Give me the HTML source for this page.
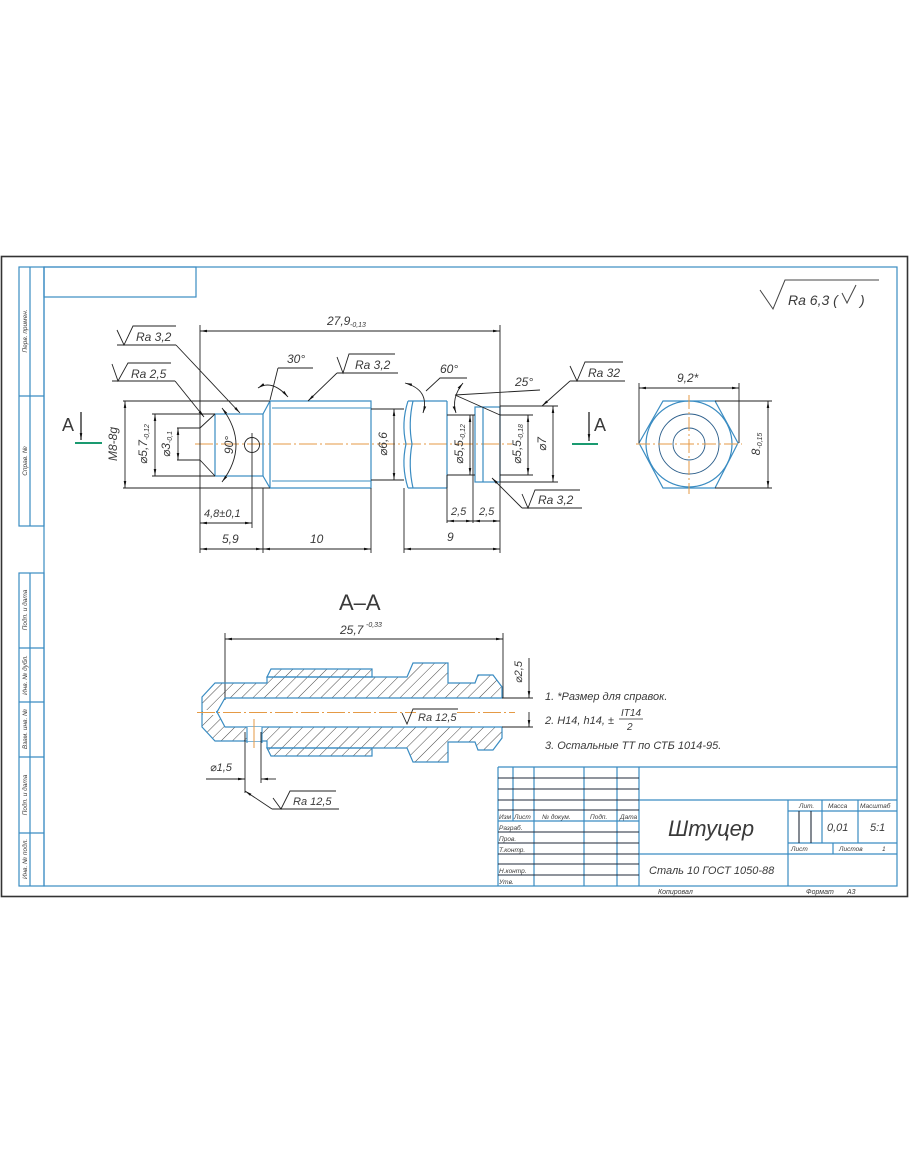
<!DOCTYPE html>
<html><head><meta charset="utf-8"><style>
html,body{margin:0;padding:0;background:#fff;}
svg{display:block;}
text{font-family:"Liberation Sans","DejaVu Sans",sans-serif;font-style:italic;fill:#3a3a3a;}
.up{font-style:normal;}
</style></head><body>
<svg width="910" height="1155" viewBox="0 0 910 1155" xmlns="http://www.w3.org/2000/svg">
<defs>
<marker id="a" viewBox="0 0 10 10" refX="10" refY="5" markerWidth="7" markerHeight="7" markerUnits="userSpaceOnUse" orient="auto-start-reverse"><path d="M0,3.2 L10,5 L0,6.8z" fill="#111"/></marker>
<pattern id="h" width="8" height="8" patternUnits="userSpaceOnUse" patternTransform="rotate(45)"><line x1="0" y1="0" x2="0" y2="8" stroke="#333" stroke-width="0.9"/></pattern>
</defs>
<rect width="910" height="1155" fill="#fff"/>

<!-- outer border -->
<rect x="1.5" y="256.5" width="906" height="640" fill="none" stroke="#333" stroke-width="1.6"/>
<!-- blue frame -->
<g fill="none" stroke="#3a8cc2" stroke-width="1.2">
<rect x="44" y="267" width="853" height="619"/>
<rect x="44" y="267" width="152" height="30"/>
<rect x="19" y="267" width="25" height="259"/>
<line x1="30" y1="267" x2="30" y2="526"/>
<line x1="19" y1="396" x2="44" y2="396"/>
<rect x="19" y="573" width="25" height="313"/>
<line x1="30" y1="573" x2="30" y2="886"/>
<line x1="19" y1="648" x2="44" y2="648"/>
<line x1="19" y1="702" x2="44" y2="702"/>
<line x1="19" y1="757" x2="44" y2="757"/>
<line x1="19" y1="833" x2="44" y2="833"/>
</g>
<g font-size="6.5">
<text transform="rotate(-90 27 331)" x="27" y="331" text-anchor="middle">Перв. примен.</text>
<text transform="rotate(-90 27 461)" x="27" y="461" text-anchor="middle">Справ. №</text>
<text transform="rotate(-90 27 610)" x="27" y="610" text-anchor="middle">Подп. и дата</text>
<text transform="rotate(-90 27 675)" x="27" y="675" text-anchor="middle">Инв. № дубл.</text>
<text transform="rotate(-90 27 729)" x="27" y="729" text-anchor="middle">Взам. инв. №</text>
<text transform="rotate(-90 27 795)" x="27" y="795" text-anchor="middle">Подп. и дата</text>
<text transform="rotate(-90 27 859)" x="27" y="859" text-anchor="middle">Инв. № подл.</text>
</g>

<!-- Ra 6,3 -->
<polyline points="760,290 773,309 785,280 879,280" fill="none" stroke="#444" stroke-width="1"/>
<text x="788" y="305" font-size="14">Ra 6,3 (</text>
<polyline points="842,293 847,303 856,285" fill="none" stroke="#444" stroke-width="1"/>
<text x="860" y="305" font-size="14">)</text>

<!-- ===== TOP VIEW ===== -->
<line x1="195" y1="444" x2="512" y2="444" stroke="#e59a45" stroke-width="1" stroke-dasharray="18,3,2,3"/>
<g fill="none" stroke="#3a8cc2" stroke-width="1.2">
<rect x="215" y="414" width="48" height="62"/>
<polyline points="263,414 270,401 371,401 371,488 270,488 263,476"/>
<line x1="270" y1="401" x2="270" y2="488"/>
<line x1="272" y1="408" x2="371" y2="408" stroke-width="0.9"/>
<line x1="272" y1="481" x2="371" y2="481" stroke-width="0.9"/>
<path d="M408,401 Q401,423 406,444 Q401,466 408,488"/>
<path d="M413,401 Q408,423 412,444 Q408,466 413,488"/>
<line x1="408" y1="401" x2="447" y2="401"/>
<line x1="408" y1="488" x2="447" y2="488"/>
<line x1="447" y1="401" x2="447" y2="488"/>
<rect x="475" y="407" width="25" height="75"/>
<line x1="483" y1="407" x2="483" y2="482"/>
</g>
<g fill="none" stroke="#222" stroke-width="0.9">
<line x1="200" y1="325" x2="200" y2="553"/>
<line x1="500" y1="325" x2="500" y2="553"/>
<line x1="200" y1="428" x2="215" y2="414"/>
<line x1="200" y1="460" x2="215" y2="476"/>
<line x1="177" y1="428" x2="200" y2="428"/>
<line x1="177" y1="460" x2="200" y2="460"/>
<line x1="152" y1="414" x2="215" y2="414"/>
<line x1="152" y1="476" x2="215" y2="476"/>
<line x1="123" y1="401" x2="270" y2="401"/>
<line x1="123" y1="488" x2="270" y2="488"/>
<line x1="371" y1="409" x2="404" y2="409"/>
<line x1="371" y1="480" x2="404" y2="480"/>
<line x1="447" y1="415" x2="475" y2="415"/>
<line x1="447" y1="475" x2="475" y2="475"/>
<line x1="447" y1="475" x2="447" y2="523"/>
<line x1="473" y1="415" x2="473" y2="523"/>
<line x1="500" y1="415" x2="533" y2="415"/>
<line x1="500" y1="475" x2="533" y2="475"/>
<line x1="500" y1="406" x2="558" y2="406"/>
<line x1="500" y1="482" x2="558" y2="482"/>
<line x1="455" y1="395" x2="500" y2="415"/>
<line x1="455" y1="395" x2="540" y2="390"/>
<circle cx="252" cy="445" r="7.5"/>
<line x1="252" y1="433" x2="252" y2="528"/>
<line x1="263" y1="488" x2="263" y2="553"/>
<line x1="371" y1="488" x2="371" y2="553"/>
<line x1="404" y1="488" x2="404" y2="553"/>
</g>
<g fill="none" stroke="#222" stroke-width="0.9" marker-start="url(#a)" marker-end="url(#a)">
<line x1="200" y1="331" x2="500" y2="331"/>
<line x1="125" y1="401" x2="125" y2="488"/>
<line x1="155" y1="414" x2="155" y2="476"/>
<line x1="178" y1="428" x2="178" y2="460"/>
<line x1="394" y1="409" x2="394" y2="480"/>
<line x1="470" y1="415" x2="470" y2="475"/>
<line x1="528" y1="415" x2="528" y2="475"/>
<line x1="553" y1="406" x2="553" y2="482"/>
<line x1="200" y1="523" x2="252" y2="523"/>
<line x1="200" y1="549" x2="263" y2="549"/>
<line x1="263" y1="549" x2="371" y2="549"/>
<line x1="404" y1="549" x2="500" y2="549"/>
<line x1="447" y1="521" x2="473" y2="521"/>
<line x1="473" y1="521" x2="500" y2="521"/>
<path d="M222,408 Q250,445 222,482"/>
<path d="M258,388 Q272,379 288,397"/>
<path d="M405,383 Q430,390 423,413"/>
<path d="M463,383 Q451,398 456,413"/>
</g>
<g fill="none" stroke="#222" stroke-width="0.9">
<polyline points="117,330 124,345 133,326 176,326"/>
<line x1="117" y1="345" x2="176" y2="345"/>
<line x1="176" y1="345" x2="240" y2="413" marker-end="url(#a)"/>
<polyline points="112,364 118,381 128,363 171,363"/>
<line x1="112" y1="381" x2="175" y2="381"/>
<line x1="175" y1="381" x2="204" y2="417" marker-end="url(#a)"/>
<line x1="278" y1="368" x2="313" y2="368"/>
<line x1="278" y1="368" x2="270" y2="400"/>
<polyline points="337,357 343,373 349,354 395,354"/>
<line x1="337" y1="373" x2="398" y2="373"/>
<line x1="337" y1="373" x2="308" y2="401" marker-end="url(#a)"/>
<polyline points="426,391 440,378 467,378"/>
<polyline points="570,366 577,381 585,362 623,362"/>
<line x1="570" y1="381" x2="625" y2="381"/>
<line x1="570" y1="381" x2="542" y2="406" marker-end="url(#a)"/>
<polyline points="522,494 528,508 535,490 580,490"/>
<line x1="522" y1="508" x2="582" y2="508"/>
<line x1="522" y1="508" x2="492" y2="478" marker-end="url(#a)"/>
</g>
<g font-size="12">
<text x="327" y="325">27,9</text><text x="350" y="327" font-size="7">-0,13</text>
<text x="136" y="341">Ra 3,2</text>
<text x="131" y="378">Ra 2,5</text>
<text x="287" y="363">30°</text>
<text x="355" y="369">Ra 3,2</text>
<text x="440" y="373">60°</text>
<text x="515" y="386">25°</text>
<text x="588" y="377">Ra 32</text>
<text x="538" y="504">Ra 3,2</text>
<text x="204" y="517" font-size="11">4,8±0,1</text>
<text x="222" y="543">5,9</text>
<text x="310" y="543">10</text>
<text x="447" y="541">9</text>
<text x="451" y="515" font-size="11">2,5</text>
<text x="479" y="515" font-size="11">2,5</text>
<text transform="rotate(-90 117 444)" x="117" y="444" text-anchor="middle">M8-8g</text>
<text transform="rotate(-90 147 444)" x="147" y="444" text-anchor="middle">⌀5,7<tspan font-size="7" dy="2">-0,12</tspan></text>
<text transform="rotate(-90 170 444)" x="170" y="444" text-anchor="middle">⌀3<tspan font-size="7" dy="2">-0,1</tspan></text>
<text transform="rotate(-90 233 445)" x="233" y="445" text-anchor="middle">90°</text>
<text transform="rotate(-90 387 444)" x="387" y="444" text-anchor="middle">⌀6,6</text>
<text transform="rotate(-90 463 444)" x="463" y="444" text-anchor="middle">⌀5,5<tspan font-size="7" dy="2">-0,12</tspan></text>
<text transform="rotate(-90 521 444)" x="521" y="444" text-anchor="middle">⌀5,5<tspan font-size="7" dy="2">-0,18</tspan></text>
<text transform="rotate(-90 546 444)" x="546" y="444" text-anchor="middle">⌀7</text>
</g>
<g stroke="#111" stroke-width="1.2">
<line x1="81" y1="412" x2="81" y2="440" marker-end="url(#a)"/>
<line x1="589" y1="412" x2="589" y2="441" marker-end="url(#a)"/>
</g>
<line x1="75" y1="443" x2="102" y2="443" stroke="#1a9a70" stroke-width="2"/>
<line x1="572" y1="444" x2="598" y2="444" stroke="#1a9a70" stroke-width="2"/>
<text x="62" y="431" font-size="18" class="up">A</text>
<text x="594" y="431" font-size="18" class="up">A</text>

<!-- ===== HEX VIEW ===== -->
<g fill="none" stroke="#3a8cc2" stroke-width="1.2">
<polygon points="639,443 663,401 715,401 738,443 715,488 663,488"/>
<circle cx="689" cy="444" r="43"/>
</g>
<g fill="none" stroke="#2a5d8a" stroke-width="0.9">
<circle cx="689" cy="444" r="30"/>
<circle cx="689" cy="444" r="16"/>
</g>
<g stroke="#e59a45" stroke-width="1" stroke-dasharray="14,3,2,3">
<line x1="636" y1="444" x2="742" y2="444"/>
<line x1="689" y1="395" x2="689" y2="494"/>
</g>
<g fill="none" stroke="#222" stroke-width="0.9">
<line x1="639" y1="383" x2="639" y2="443"/>
<line x1="739" y1="383" x2="739" y2="443"/>
<line x1="715" y1="401" x2="772" y2="401"/>
<line x1="715" y1="488" x2="772" y2="488"/>
<line x1="639" y1="388" x2="739" y2="388" marker-start="url(#a)" marker-end="url(#a)"/>
<line x1="768" y1="401" x2="768" y2="488" marker-start="url(#a)" marker-end="url(#a)"/>
</g>
<text x="677" y="382" font-size="12">9,2*</text>
<text transform="rotate(-90 760 444)" x="760" y="444" text-anchor="middle" font-size="12">8<tspan font-size="7" dy="2">-0,15</tspan></text>

<!-- ===== SECTION A-A ===== -->
<text x="339" y="610" font-size="22" class="up">A–A</text>
<text x="340" y="634" font-size="12">25,7</text><text x="366" y="627" font-size="7">-0,33</text>
<g fill="none" stroke="#222" stroke-width="0.9">
<line x1="225" y1="633" x2="225" y2="700"/>
<line x1="503" y1="633" x2="503" y2="698"/>
<line x1="225" y1="639" x2="503" y2="639" marker-start="url(#a)" marker-end="url(#a)"/>
</g>
<g fill="url(#h)" stroke="#3a8cc2" stroke-width="1.2">
<polygon points="202,697 215,683 267,683 267,677 407,677 413,663 448,663 448,683 475,683 478,675 493,675 502,687 502,698 225,698 217,712 202,712"/>
<polygon points="202,727 215,741 267,741 267,748 407,748 413,762 448,762 448,742 475,742 478,750 493,750 502,738 502,727 225,727 217,712 202,712"/>
<polygon points="267,677 271,669 372,669 372,677"/>
<polygon points="267,748 271,756 372,756 372,748"/>
</g>
<rect x="203" y="710" width="13" height="5" fill="#fff"/>
<rect x="247" y="727" width="15" height="14" fill="#fff"/>
<g stroke="#3a8cc2" stroke-width="1.1">
<line x1="247" y1="727" x2="247" y2="743"/>
<line x1="262" y1="727" x2="262" y2="743"/>
</g>
<line x1="197" y1="712.5" x2="515" y2="712.5" stroke="#e59a45" stroke-width="1" stroke-dasharray="18,3,2,3"/>
<line x1="254" y1="719" x2="254" y2="748" stroke="#e59a45" stroke-width="1"/>
<rect x="416" y="709" width="40" height="10" fill="#fff"/>
<polyline points="402,713 407,724 413,709 458,709" fill="none" stroke="#222" stroke-width="0.9"/>
<text x="418" y="721" font-size="11">Ra 12,5</text>
<g fill="none" stroke="#222" stroke-width="0.9">
<line x1="502" y1="698" x2="533" y2="698"/>
<line x1="502" y1="727" x2="533" y2="727"/>
<line x1="529" y1="658" x2="529" y2="698" marker-end="url(#a)"/>
<line x1="529" y1="727" x2="529" y2="712" marker-start="url(#a)"/>
<line x1="245" y1="732" x2="245" y2="793"/>
<line x1="261" y1="732" x2="261" y2="783"/>
<line x1="206" y1="779" x2="245" y2="779" marker-end="url(#a)"/>
<line x1="276" y1="779" x2="261" y2="779" marker-end="url(#a)"/>
<line x1="272" y1="809" x2="245" y2="791" marker-end="url(#a)"/>
<line x1="272" y1="809" x2="339" y2="809"/>
<polyline points="273,798 281,809 290,791 336,791"/>
</g>
<text transform="rotate(-90 522 672)" x="522" y="672" text-anchor="middle" font-size="11">⌀2,5</text>
<text x="210" y="771" font-size="11">⌀1,5</text>
<text x="293" y="805" font-size="11">Ra 12,5</text>

<!-- notes -->
<g font-size="11">
<text x="545" y="700">1.  *Размер для справок.</text>
<text x="545" y="724">2.  H14,  h14,  ±</text>
<text x="621" y="716" font-size="10">IT14</text>
<line x1="619" y1="719" x2="643" y2="719" stroke="#333" stroke-width="0.8"/>
<text x="627" y="730" font-size="10">2</text>
<text x="545" y="749">3.  Остальные ТТ по СТБ 1014-95.</text>
</g>

<!-- ===== TITLE BLOCK ===== -->
<g fill="none" stroke="#3a8cc2" stroke-width="1.2">
<line x1="498" y1="767" x2="897" y2="767"/>
<line x1="498" y1="767" x2="498" y2="886"/>
<line x1="513" y1="767" x2="513" y2="821"/>
<line x1="534" y1="767" x2="534" y2="886"/>
<line x1="584" y1="767" x2="584" y2="886"/>
<line x1="617" y1="767" x2="617" y2="886"/>
<line x1="639" y1="767" x2="639" y2="886"/>
<line x1="639" y1="800" x2="897" y2="800"/>
<line x1="639" y1="854" x2="897" y2="854"/>
<line x1="788" y1="800" x2="788" y2="886"/>
<line x1="788" y1="811" x2="897" y2="811"/>
<line x1="788" y1="843" x2="897" y2="843"/>
<line x1="822" y1="800" x2="822" y2="843"/>
<line x1="858" y1="800" x2="858" y2="843"/>
<line x1="833" y1="843" x2="833" y2="854"/>
<line x1="498" y1="821" x2="639" y2="821"/>
</g>
<g stroke="#1f2a3a" stroke-width="1.1">
<line x1="498" y1="778" x2="639" y2="778"/>
<line x1="498" y1="789" x2="639" y2="789"/>
<line x1="498" y1="800" x2="639" y2="800"/>
<line x1="498" y1="810" x2="639" y2="810"/>
<line x1="498" y1="832" x2="639" y2="832"/>
<line x1="498" y1="843" x2="639" y2="843"/>
<line x1="498" y1="854" x2="639" y2="854"/>
<line x1="498" y1="864" x2="639" y2="864"/>
<line x1="498" y1="875" x2="639" y2="875"/>
<line x1="799" y1="811" x2="799" y2="843"/>
<line x1="811" y1="811" x2="811" y2="843"/>
</g>
<g font-size="6.5">
<text x="499" y="819">Изм</text><text x="514" y="819">Лист</text><text x="542" y="819">№ докум.</text><text x="590" y="819">Подп.</text><text x="620" y="819">Дата</text>
<text x="499" y="830">Разраб.</text>
<text x="499" y="841">Пров.</text>
<text x="499" y="852">Т.контр.</text>
<text x="499" y="873">Н.контр.</text>
<text x="499" y="884">Утв.</text>
<text x="799" y="808">Лит.</text><text x="828" y="808">Масса</text><text x="860" y="808">Масштаб</text>
<text x="791" y="851">Лист</text><text x="839" y="851">Листов</text><text x="882" y="851">1</text>
</g>
<text x="668" y="836" font-size="22">Штуцер</text>
<text x="649" y="874" font-size="11">Сталь 10  ГОСТ 1050-88</text>
<text x="827" y="831" font-size="11">0,01</text>
<text x="870" y="831" font-size="11">5:1</text>
<text x="658" y="894" font-size="7">Копировал</text>
<text x="806" y="894" font-size="7">Формат</text>
<text x="847" y="894" font-size="7">А3</text>
</svg>
</body></html>
